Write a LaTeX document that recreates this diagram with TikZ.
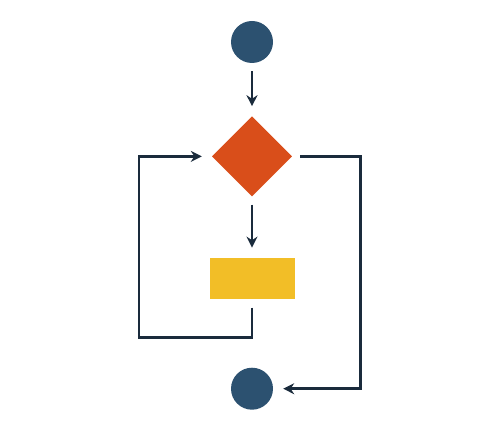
\documentclass[tikz,border=0pt]{standalone}
\usepackage{tikz}
\usetikzlibrary{arrows.meta,positioning,shapes.geometric}

\definecolor{termblue}{HTML}{2C5170}
\definecolor{decorange}{HTML}{D94E1A}
\definecolor{procyellow}{HTML}{F2BE27}
\definecolor{linkdark}{HTML}{1A2B3C}

\tikzset{
  terminal/.style={circle,fill=termblue,inner sep=0pt,minimum size=42pt},
  decision/.style={diamond,fill=decorange,inner sep=0pt,minimum width=80pt,minimum height=80pt},
  process/.style={rectangle,fill=procyellow,inner sep=0pt,minimum width=85pt,minimum height=41.5pt},
  link/.style={draw=linkdark,line width=2.7pt,shorten <=8pt,shorten >=10pt}
}

\begin{document}
\begin{tikzpicture}[x=1pt,y=1pt,>={Stealth[length=11pt,width=11pt]}]
	\useasboundingbox (0,0) rectangle (500,434);
	\node[terminal] (start) at (252,392) {};
	\node[decision] [below=53pt of start] (dec) {};
	\node[process] [below=61pt of dec] (proc) {};
	\node[terminal] [below=68pt of proc] (stop) {};
	\draw[link,->] (start) -- (dec);
	\draw[link,->] (dec) -- (proc);
	\draw[link,->] (proc.south) -- ++(0,-38) -- ++(-113,0) |- (dec.west);
	\draw[link,->] (dec.east) -- ++(68,0) |- (stop.east);
\end{tikzpicture}
\end{document}
